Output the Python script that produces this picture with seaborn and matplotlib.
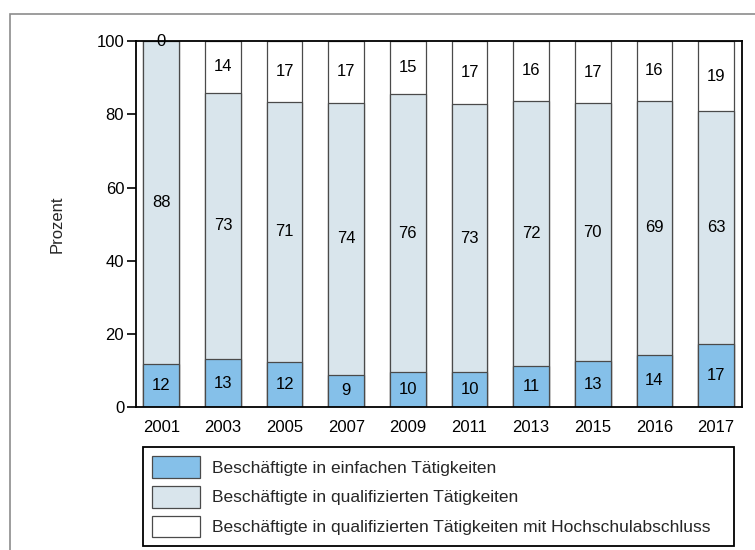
import matplotlib
matplotlib.use("Agg")
import matplotlib.pyplot as plt
import seaborn as sns
import pandas as pd
from matplotlib.patches import Rectangle

# ---- data ----
years = ["2001", "2003", "2005", "2007", "2009", "2011", "2013", "2015", "2016", "2017"]
einfach = [11.7, 13.2, 12.4, 8.9, 9.6, 9.6, 11.4, 12.7, 14.4, 17.4]
qualifiziert = [88.3, 72.7, 71.0, 74.3, 75.8, 73.2, 72.3, 70.3, 69.3, 63.4]
hochschule = [0.0, 14.1, 16.6, 16.8, 14.6, 17.2, 16.3, 17.0, 16.3, 19.2]
series_names = [
    "Beschäftigte in einfachen Tätigkeiten",
    "Beschäftigte in qualifizierten Tätigkeiten",
    "Beschäftigte in qualifizierten Tätigkeiten mit Hochschulabschluss",
]
y_ticks = [0, 20, 40, 60, 80, 100]
colors = ["#85C0E9", "#D9E5EC", "#FFFFFF"]

sns.set_style("white")
plt.rcParams["font.family"] = ["Liberation Sans", "DejaVu Sans"]

W, H = 755, 550
fig = plt.figure(figsize=(W / 100, H / 100), dpi=100)
ax = fig.add_axes([136 / W, 1 - 407.3 / H, 606 / W, 366.3 / H])

df = pd.DataFrame({"Jahr": years, "e": einfach, "q": qualifiziert, "h": hochschule})
df["c1"] = df["e"]
df["c2"] = df["e"] + df["q"]
df["c3"] = df["c2"] + df["h"]

cols = ["c1", "c2", "c3"]
for col, color, name in reversed(list(zip(cols, colors, series_names))):
    sns.barplot(data=df, x="Jahr", y=col, color=color, saturation=1,
                width=0.58, edgecolor="#4a4a4a", linewidth=0.9,
                errorbar=None, ax=ax, label=name, legend=False)

# value labels centred in each segment
for i in range(len(years)):
    base = 0.0
    for vals in (einfach, qualifiziert, hochschule):
        v = vals[i]
        ax.text(i, base + v / 2, f"{v:.0f}", ha="center", va="center",
                fontsize=12, color="black")
        base += v

ax.set_xlim(-0.41, 9.42)
ax.set_ylim(0, 100)
ax.set_yticks(y_ticks)
ax.set_xlabel("")
ax.set_ylabel("Prozent", fontsize=12)
ax.yaxis.set_label_coords(-0.117, 0.5)
ax.tick_params(axis="y", left=True, length=6.5, width=1.2, pad=2,
               labelsize=12, colors="black")
ax.tick_params(axis="x", bottom=False, length=0, pad=9, labelsize=12,
               colors="black")
for sp in ax.spines.values():
    sp.set_visible(True)
    sp.set_color("black")
    sp.set_linewidth(1.3)

if ax.get_legend() is not None:
    ax.get_legend().remove()

handles, labels = ax.get_legend_handles_labels()
order = [labels.index(n) for n in series_names]
leg = fig.legend([handles[k] for k in order], [labels[k] for k in order],
                 loc="lower left",
                 bbox_to_anchor=(143 / W, 4 / H, 591 / W, 0.18),
                 mode="expand", ncol=1, fontsize=12.5, frameon=True,
                 fancybox=False, edgecolor="black", framealpha=1,
                 borderpad=0.5, handlelength=2.77, handleheight=1.55,
                 handletextpad=0.69, labelspacing=0.46, borderaxespad=0)
leg.get_frame().set_linewidth(1.3)

# outer grey frame of the original graphic
fig.add_artist(Rectangle((10 / W, -0.1), 2.0, (1 - 14 / H) + 0.1,
                         transform=fig.transFigure, fill=False,
                         edgecolor="#8c8c8c", linewidth=1.2))

fig.savefig("out.png", dpi=100)
